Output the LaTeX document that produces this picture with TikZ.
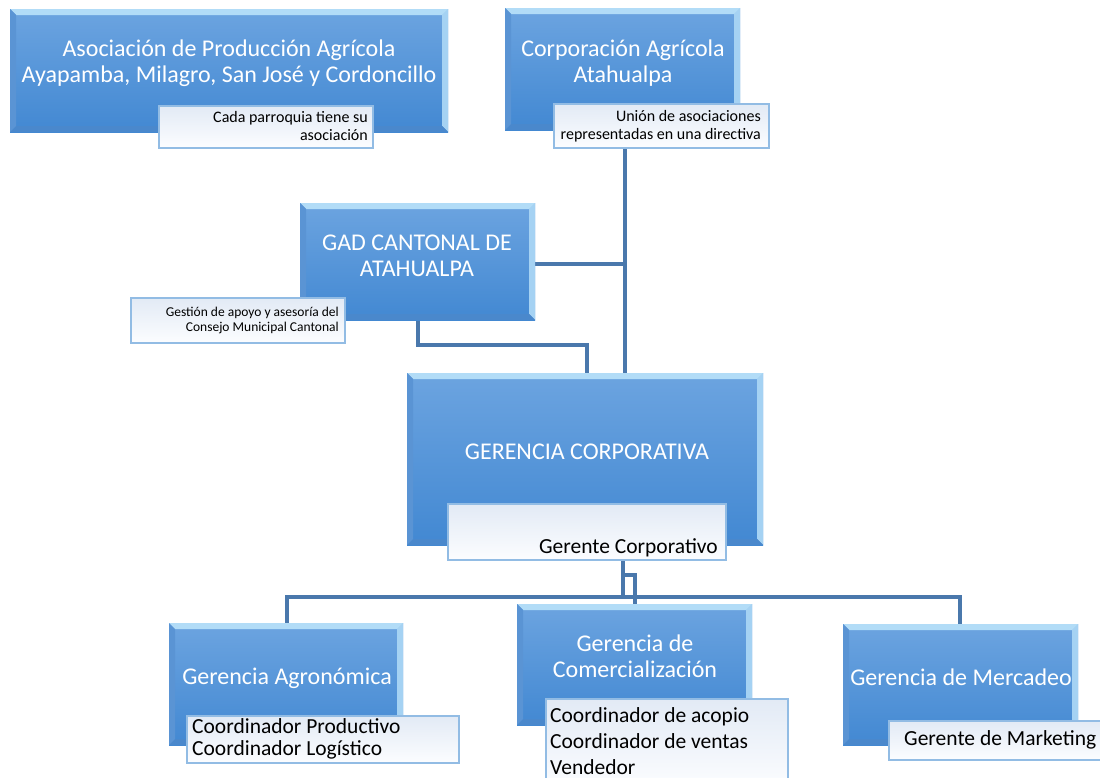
\documentclass[tikz,border=0pt]{standalone}
\usepackage{fontspec}
\setmainfont{Carlito}
\usetikzlibrary{calc}
\pgfdeclarelayer{bg}
\pgfdeclarelayer{background}
\pgfsetlayers{bg,background,main}
\definecolor{conn}{RGB}{74,120,172}
\definecolor{boxtop}{RGB}{108,164,224}
\definecolor{boxbot}{RGB}{66,136,210}
\definecolor{bevtop}{RGB}{178,220,247}
\definecolor{bevright}{RGB}{165,210,243}
\definecolor{bevleft}{RGB}{90,148,212}
\definecolor{bevbot}{RGB}{74,136,204}
\definecolor{subtop}{RGB}{226,234,245}
\definecolor{subbot}{RGB}{252,253,255}
\definecolor{subedge}{RGB}{146,188,228}
\tikzset{
  mainbox/.style={rectangle, inner sep=0pt, anchor=north west, draw=none,
    top color=boxtop, bottom color=boxbot,
    path picture={
      \fill[bevtop] (path picture bounding box.north west) -- (path picture bounding box.north east)
        -- ([shift={(-6pt,-6pt)}]path picture bounding box.north east)
        -- ([shift={(6pt,-6pt)}]path picture bounding box.north west) -- cycle;
      \fill[bevright] (path picture bounding box.north east) -- (path picture bounding box.south east)
        -- ([shift={(-6pt,6pt)}]path picture bounding box.south east)
        -- ([shift={(-6pt,-6pt)}]path picture bounding box.north east) -- cycle;
      \fill[bevleft] (path picture bounding box.north west) -- (path picture bounding box.south west)
        -- ([shift={(6pt,6pt)}]path picture bounding box.south west)
        -- ([shift={(6pt,-6pt)}]path picture bounding box.north west) -- cycle;
      \fill[bevbot] (path picture bounding box.south west) -- (path picture bounding box.south east)
        -- ([shift={(-6pt,6pt)}]path picture bounding box.south east)
        -- ([shift={(6pt,6pt)}]path picture bounding box.south west) -- cycle;
    }},
  subbox/.style={rectangle, inner sep=0pt, anchor=north west, draw=subedge, line width=1.6pt,
    top color=subtop, bottom color=subbot},
  maintext/.style={text=white, align=center, inner sep=0pt, font=\fontsize{24}{26}\selectfont},
  subtext/.style={text=black, inner sep=0pt, font=\fontsize{16}{18}\selectfont},
  smalltext/.style={text=black, inner sep=0pt, font=\fontsize{13.5}{15}\selectfont},
  roletext/.style={text=black, inner sep=0pt, align=left, anchor=west},
  connector/.style={draw=conn, line width=3.4pt},
}
\begin{document}
\begin{tikzpicture}[x=1pt,y=-1pt]
\begin{pgfonlayer}{bg}
\fill[white] (0,0) rectangle (1100,778);
\end{pgfonlayer}
\useasboundingbox (0,0) rectangle (1100,778);

% Asociacion
\node[mainbox, minimum width=438pt, minimum height=123pt] (asoc) at (10,9) {};
\node[maintext] (asoctxt) at (229,63) {Asociación de Producción Agrícola\\Ayapamba, Milagro, San José y Cordoncillo};
\node[subbox, minimum width=214pt, minimum height=42pt] (asocsub) at (158,105) {};
\node[subtext, align=right, anchor=east] (asocsubtxt) at (368,126) {Cada parroquia tiene su\\asociación};

% Corporacion
\node[mainbox, minimum width=235pt, minimum height=122pt] (corp) at (505,8) {};
\node[maintext] (corptxt) at (623,63) {Corporación Agrícola\\Atahualpa};
\node[subbox, minimum width=215pt, minimum height=44pt] (corpsub) at (553,103) {};
\node[subtext, align=right, anchor=east] (corpsubtxt) at (761,126) {Unión de asociaciones\\representadas en una directiva};

% GAD
\node[mainbox, minimum width=235pt, minimum height=117pt] (gad) at (300,203) {};
\node[maintext] (gadtxt) at (417,256) {GAD CANTONAL DE\\ATAHUALPA};
\node[subbox, minimum width=214pt, minimum height=45pt] (gadsub) at (130,297) {};
\node[smalltext, align=right, anchor=east] (gadsubtxt) at (339,320) {Gestión de apoyo y asesoría del\\Consejo Municipal Cantonal};

% Gerencia corporativa
\node[mainbox, minimum width=356pt, minimum height=172pt] (central) at (407,373) {};
\node[maintext] (centraltxt) at (587,452) {GERENCIA CORPORATIVA};
\node[subbox, minimum width=278pt, minimum height=56pt] (centralsub) at (447,503) {};
\node[roletext, anchor=east, font=\fontsize{21.5}{23}\selectfont] (centralsubtxt) at (718,548) {Gerente Corporativo};

% Agronomica
\node[mainbox, minimum width=234pt, minimum height=122pt] (agro) at (169,623) {};
\node[maintext] (agrotxt) at (287,678) {Gerencia Agronómica};
\node[subbox, minimum width=272pt, minimum height=47pt] (agrosub) at (186,715) {};
\node[roletext, font=\fontsize{21.5}{22.5}\selectfont] (agrosubtxt) at (192,739) {Coordinador Productivo\\Coordinador Logístico};

% Comercializacion
\node[mainbox, minimum width=235pt, minimum height=121pt] (comer) at (517,604) {};
\node[maintext] (comertxt) at (635,656) {Gerencia de\\Comercialización};
\node[subbox, minimum width=242pt, minimum height=90pt] (comersub) at (545,698) {};
\node[roletext, font=\fontsize{21.5}{26}\selectfont] (comersubtxt) at (550,741) {Coordinador de acopio\\Coordinador de ventas\\Vendedor};

% Mercadeo
\node[mainbox, minimum width=235pt, minimum height=121pt] (merc) at (843,624) {};
\node[maintext] (merctxt) at (961,677) {Gerencia de Mercadeo};
\node[subbox, minimum width=230pt, minimum height=39pt] (mercsub) at (888,720) {};
\node[roletext, font=\fontsize{21.5}{23}\selectfont] (mercsubtxt) at (904,740) {Gerente de Marketing};

% junction coordinates
\coordinate (j1) at (625,264);
\coordinate (g1) at (418,345);
\coordinate (g2) at (587,345);
\coordinate (b0) at (623,597);
\coordinate (bl) at (287,597);
\coordinate (br) at (960,597);
\coordinate (c1) at (623,575);
\coordinate (c2) at (635,575);

\begin{pgfonlayer}{background}
\draw[connector] (corpsub.south -| j1) -- (central.north -| j1);
\draw[connector] (gad.east |- j1) -- (j1);
\draw[connector] (gad.south -| g1) -- (g1) -- (g2) -- (central.north -| g2);
\draw[connector] (centralsub.south -| b0) -- (b0);
\draw[connector] (agro.north -| bl) -- (bl) -- (br) -- (merc.north -| br);
\draw[connector] (c1) -- (c2) -- (comer.north -| c2);
\end{pgfonlayer}
\end{tikzpicture}
\end{document}
